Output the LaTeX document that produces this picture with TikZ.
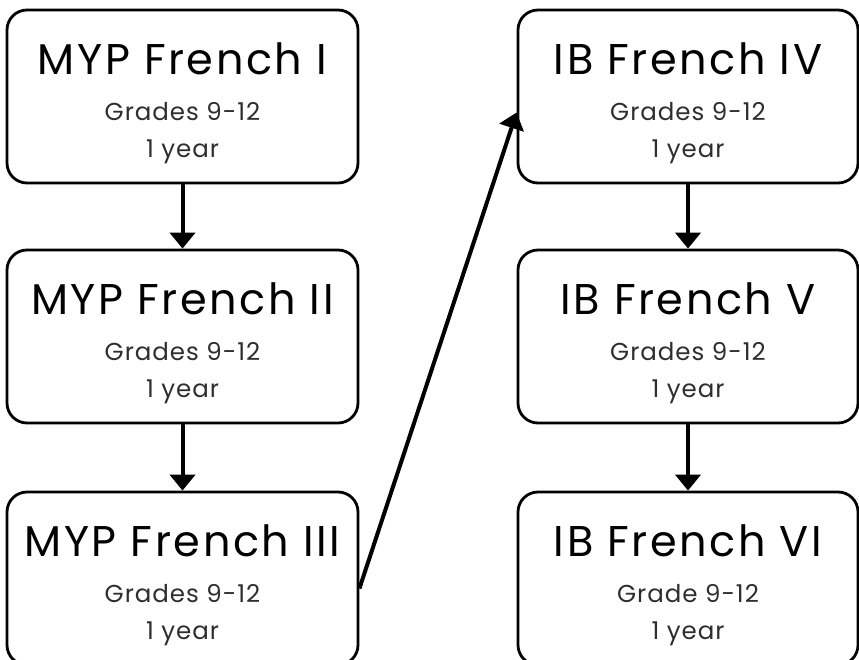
\documentclass[tikz,border=0pt]{standalone}
\usepackage{fontspec}
\setmainfont{Poppins}
\newfontfamily\ttlfont[LetterSpace=6]{Poppins}
\newfontfamily\subfont[LetterSpace=4]{Poppins}
\usetikzlibrary{arrows.meta,calc}
\definecolor{subgray}{HTML}{2E2E2E}
\begin{document}
\begin{tikzpicture}[x=1pt,y=-1pt,
  lbox/.style={draw=black,line width=2.8pt,rounded corners=20pt,minimum width=351pt,minimum height=173pt,inner sep=0pt},
  rbox/.style={lbox,minimum width=340pt},
  ttl/.style={anchor=base,inner sep=0pt,font=\ttlfont\fontsize{43}{43}\selectfont,text=black},
  sub/.style={anchor=base,inner sep=0pt,font=\subfont\fontsize{24.5}{24.5}\selectfont,text=subgray},
  conn/.style={line width=4pt,-{Triangle[width=25pt,length=16pt]}}]
\useasboundingbox (0,0) rectangle (859,660);
\node[lbox] (b1) at (182.5,96.5) {};
\node[lbox] (b2) at (182.5,336.5) {};
\node[lbox] (b3) at (182.5,578.5) {};
\node[rbox] (b4) at (688,96.5) {};
\node[rbox] (b5) at (688,336.5) {};
\node[rbox] (b6) at (688,578.5) {};
\foreach \b/\t/\g in {b1/MYP French I/Grades 9-12, b2/MYP French II/Grades 9-12, b3/MYP French III/Grades 9-12, b4/IB French IV/Grades 9-12, b5/IB French V/Grades 9-12, b6/IB French VI/Grade 9-12}{
  \node[ttl] (\b t) at ($(\b.north)+(0,66)$) {\t};
  \node[sub] (\b g) at ($(\b.north)+(0,112)$) {\g};
  \node[sub] (\b y) at ($(\b.north)+(0,149)$) {1 year};
}
\draw[conn] (b1.south) -- (b2.north);
\draw[conn] (b2.south) -- (b3.north);
\draw[conn] (b4.south) -- (b5.north);
\draw[conn] (b5.south) -- (b6.north);
\coordinate (s) at ($(b3.east)+(0,10)$);
\coordinate (e) at ($(b4.west)+(0,16)$);
\draw[conn] (s) -- (e);
\end{tikzpicture}
\end{document}
